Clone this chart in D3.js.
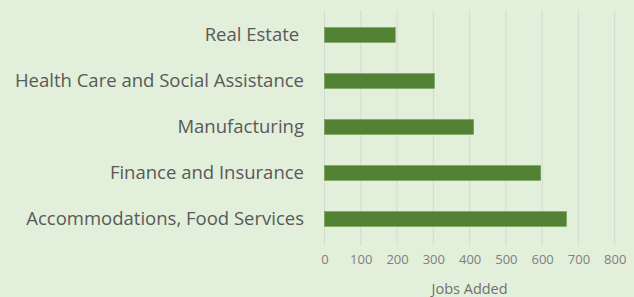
<!DOCTYPE html>
<html><head><meta charset="utf-8">
<script src="https://cdn.jsdelivr.net/npm/d3@7"></script>
<style>
html,body{margin:0;padding:0;background:#e2efda;}
svg{display:block;}
text{white-space:pre;}
</style></head>
<body><svg id="c" width="634" height="297"></svg>
<script>
const categories = ["Real Estate ", "Health Care and Social Assistance", "Manufacturing", "Finance and Insurance", "Accommodations, Food Services"];
const jobsAdded = [195, 303, 411, 596, 667];
const tickValues = [0, 100, 200, 300, 400, 500, 600, 700, 800];
const axisTitle = "Jobs Added";

const svg = d3.select("#c");
svg.append("rect").attr("width",634).attr("height",297).attr("fill","#e2efda");
const x = d3.scaleLinear().domain([0,800]).range([324.5,614.7]);
const y = d3.scaleBand().domain(categories).range([12,242]).paddingInner(0.68).paddingOuter(0.34);

svg.append("g").selectAll("line").data(tickValues).join("line")
  .attr("x1",d=>x(d)).attr("x2",d=>x(d)).attr("y1",10).attr("y2",246)
  .attr("stroke","#d3dccd").attr("stroke-width",1);

svg.append("g").selectAll("rect").data(categories).join("rect")
  .attr("x",x(0)).attr("y",d=>y(d)).attr("height",y.bandwidth())
  .attr("width",(d,i)=>x(jobsAdded[i])-x(0))
  .attr("fill","#548235").attr("stroke","#6a9a48").attr("stroke-width",0.6);

const ax = svg.append("g").attr("transform","translate(0,255)")
  .call(d3.axisBottom(x).tickValues(tickValues).tickSize(0).tickPadding(0).tickFormat(d3.format("d")));
ax.select(".domain").remove();
ax.selectAll("text").attr("dy","0.71em").attr("fill","#808080").style("font-family","Open Sans, sans-serif").style("font-size","13px");

svg.append("g").selectAll("text").data(categories).join("text")
  .attr("x",304).attr("y",d=>y(d)+y.bandwidth()/2).attr("dy","0.35em")
  .attr("text-anchor","end").attr("fill","#595959")
  .style("font-family","Open Sans, sans-serif").style("font-size","18.5px")
  .text(d=>d);

svg.append("text").attr("x",(x(0)+x(800))/2).attr("y",294).attr("text-anchor","middle")
  .attr("fill","#707070").style("font-family","Open Sans, sans-serif").style("font-size","14.5px")
  .text(axisTitle);
</script></body></html>
